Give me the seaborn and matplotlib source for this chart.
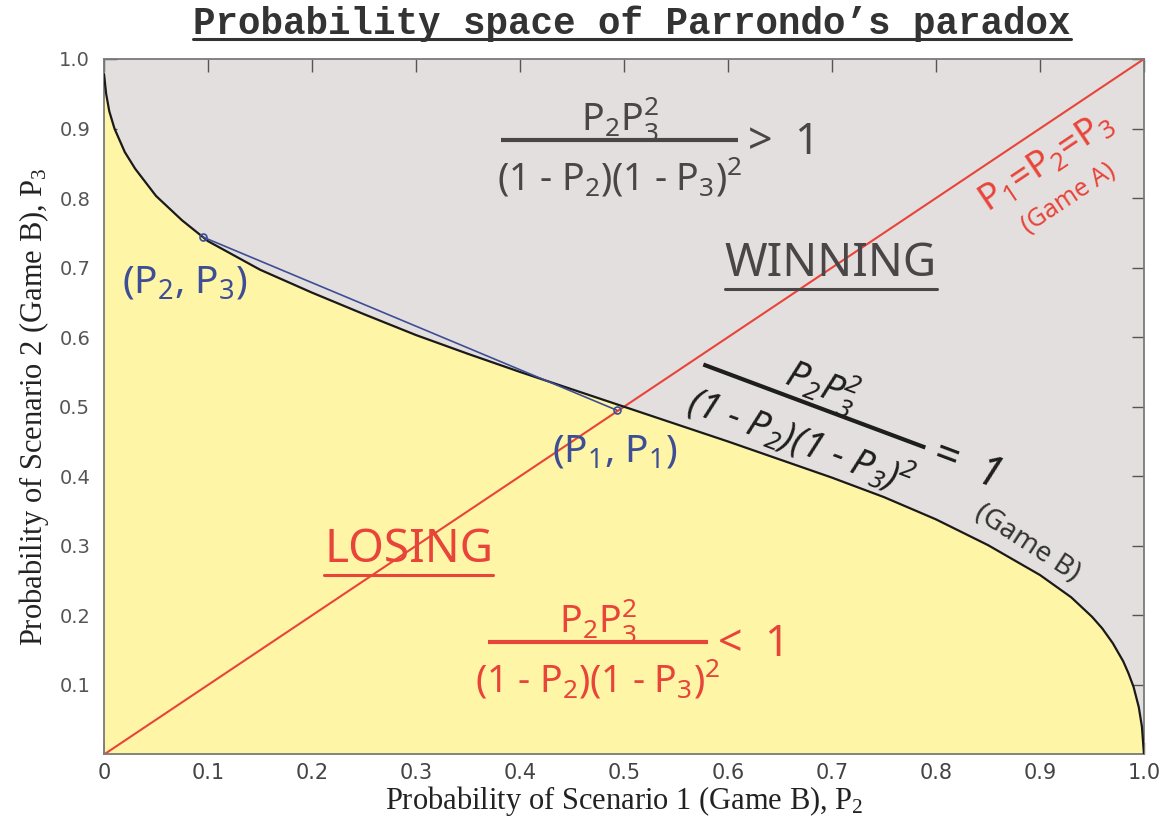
import matplotlib
matplotlib.use("Agg")
import matplotlib.pyplot as plt
from matplotlib.lines import Line2D
from matplotlib.transforms import Affine2D, ScaledTranslation
import seaborn as sns

# --- values ---
# boundary P2*P3^2 / ((1-P2)(1-P3)^2) = 1  (Game B)
curve_p2 = [0.000, 0.002, 0.005, 0.010, 0.020, 0.030, 0.050, 0.075, 0.100, 0.150,
            0.200, 0.250, 0.300, 0.350, 0.400, 0.450, 0.500, 0.550, 0.600, 0.650,
            0.700, 0.750, 0.800, 0.850, 0.900, 0.930, 0.950, 0.960, 0.970, 0.980,
            0.985, 0.990, 0.995, 0.998, 1.000]
curve_p3 = [0.978, 0.950, 0.925, 0.900, 0.866, 0.842, 0.803, 0.768, 0.738, 0.697,
            0.664, 0.633, 0.603, 0.576, 0.550, 0.525, 0.500, 0.475, 0.450, 0.424,
            0.398, 0.370, 0.338, 0.301, 0.258, 0.226, 0.198, 0.181, 0.160, 0.134,
            0.117, 0.097, 0.068, 0.040, 0.000]

# Game A: P1 = P2 = P3
game_a = [0.0, 1.0]

# segment from (P2, P3) to (P1, P1)
path_p2 = [0.095, 0.493]
path_p3 = [0.744, 0.495]

xticks = [0, 0.1, 0.2, 0.3, 0.4, 0.5, 0.6, 0.7, 0.8, 0.9, 1.0]
xtick_labels = ["0", "0.1", "0.2", "0.3", "0.4", "0.5", "0.6", "0.7", "0.8", "0.9", "1.0"]
yticks = [0.1, 0.2, 0.3, 0.4, 0.5, 0.6, 0.7, 0.8, 0.9, 1.0]
ytick_labels = ["0.1", "0.2", "0.3", "0.4", "0.5", "0.6", "0.7", "0.8", "0.9", "1.0"]

GRAY = "#e3dfde"
YELLOW = "#fff5a6"
RED = "#e8443a"
BLUE = "#3d4e96"
DARK = "#4a4546"
SANS = ["Noto Sans", "DejaVu Sans"]

sns.set_theme(style="ticks")
plt.rcParams["font.family"] = ["DejaVu Sans"]

fig, ax = plt.subplots(figsize=(11.6, 8.19), dpi=100)
fig.subplots_adjust(left=0.0897, right=0.9862, bottom=0.0788, top=0.928)

ax.set_facecolor(GRAY)
ax.fill_between(curve_p2, 0, curve_p3, color=YELLOW, lw=0, zorder=1)
sns.lineplot(x=curve_p2, y=curve_p3, color="#1a1a1a", lw=1.6, sort=False,
             estimator=None, ax=ax, zorder=3)
sns.lineplot(x=game_a, y=game_a, color=RED, lw=1.5, ax=ax, zorder=2)
sns.lineplot(x=path_p2, y=path_p3, color=BLUE, lw=1.2, ax=ax, zorder=4)
ax.plot(path_p2, path_p3, "o", mfc="none", mec=BLUE, ms=5, mew=1.2, zorder=5)

ax.set_xlim(0, 1)
ax.set_ylim(0, 1)
ax.set_xticks(xticks)
ax.set_xticklabels(xtick_labels, family=["Liberation Sans Narrow", "DejaVu Sans"],
                   fontsize=15, color="#444444")
ax.set_yticks(yticks)
ax.set_yticklabels(ytick_labels, fontsize=14, color="#555555")
ax.tick_params(direction="in", length=9, width=1, top=True, right=True,
               color="#555555")
ax.tick_params(axis="x", pad=6)
ax.tick_params(axis="y", pad=10)
for s in ax.spines.values():
    s.set_color("#7a7a7a")
    s.set_linewidth(1.3)

ax.set_xlabel(r"Probability of Scenario 1 (Game B), P$\mathregular{_2}$",
              family="Liberation Serif", fontsize=22, color="#222222", labelpad=1)
ax.set_ylabel(r"Probability of Scenario 2 (Game B), P$\mathregular{_3}$",
              family="Liberation Serif", fontsize=22, color="#222222", labelpad=6)

title = fig.text(0.545, 0.958, "Probability space of Parrondo\u2019s paradox",
                 family="Liberation Mono", weight="bold", fontsize=27,
                 color="#333333", ha="center", va="baseline")


def fraction(x, y, color, size, width, rhs, angle=0, style="normal"):
    # local frame in pixels, rotated, anchored at a data point
    tr = Affine2D().rotate_deg(angle) + ScaledTranslation(x, y, ax.transData)
    kw = dict(transform=tr, rotation=angle, rotation_mode="anchor", color=color,
              family=SANS, style=style, zorder=6)
    ax.text(0, 9, r"P$\mathregular{_2}$P$\mathregular{_3^2}$", ha="center",
            va="baseline", fontsize=size, **kw)
    ax.text(0, -50, r"(1 - P$\mathregular{_2}$)(1 - P$\mathregular{_3}$)$\mathregular{^2}$",
            ha="center", va="baseline", fontsize=size, **kw)
    ax.add_artist(Line2D([-width / 2, width / 2], [0, 0], transform=tr, color=color,
                         lw=3, solid_capstyle="butt", zorder=6))
    ax.text(width / 2 + 10, -3, rhs, ha="left", va="center", fontsize=size + 4, **kw)


fraction(0.4956, 0.883, DARK, 27, 237, ">  1")
fraction(0.475, 0.161, RED, 27, 220, "<  1")
fraction(0.683, 0.501, "#1e1e1e", 27, 237, "=  1", angle=-20.5, style="italic")

ax.text(0.888, 0.304, "(Game B)", rotation=-33, rotation_mode="anchor", ha="center",
        va="center", fontsize=20, color="#333333", family=SANS)

ax.text(0.906, 0.851, r"P$\mathregular{_1}$=P$\mathregular{_2}$=P$\mathregular{_3}$",
        rotation=33.75, rotation_mode="anchor", ha="center", va="center",
        fontsize=26, color=RED, family=SANS)
ax.text(0.927, 0.80, "(Game A)", rotation=33.75, rotation_mode="anchor", ha="center",
        va="center", fontsize=18, color=RED, family=SANS)

ax.text(0.078, 0.678, r"(P$\mathregular{_2}$, P$\mathregular{_3}$)", ha="center",
        va="center", fontsize=28, color=BLUE, family=SANS)
ax.text(0.491, 0.435, r"(P$\mathregular{_1}$, P$\mathregular{_1}$)", ha="center",
        va="center", fontsize=28, color=BLUE, family=SANS)

win = ax.text(0.699, 0.688, "WINNING", ha="center", va="baseline", fontsize=33,
              color=DARK, family=SANS)
lose = ax.text(0.293, 0.277, "LOSING", ha="center", va="baseline", fontsize=33,
               color=RED, family=SANS)

# underlines under the labelled words
fig.canvas.draw()
renderer = fig.canvas.get_renderer()
for t, col in [(win, DARK), (lose, RED)]:
    bb = t.get_window_extent(renderer).transformed(ax.transAxes.inverted())
    ax.add_artist(Line2D([bb.x0, bb.x1], [bb.y0 - 0.003, bb.y0 - 0.003],
                         transform=ax.transAxes, color=col, lw=2.2))
bb = title.get_window_extent(renderer).transformed(fig.transFigure.inverted())
fig.add_artist(Line2D([bb.x0, bb.x1], [0.9525, 0.9525], transform=fig.transFigure,
                      color="#333333", lw=2.2))

fig.savefig("out.png", dpi=100)
